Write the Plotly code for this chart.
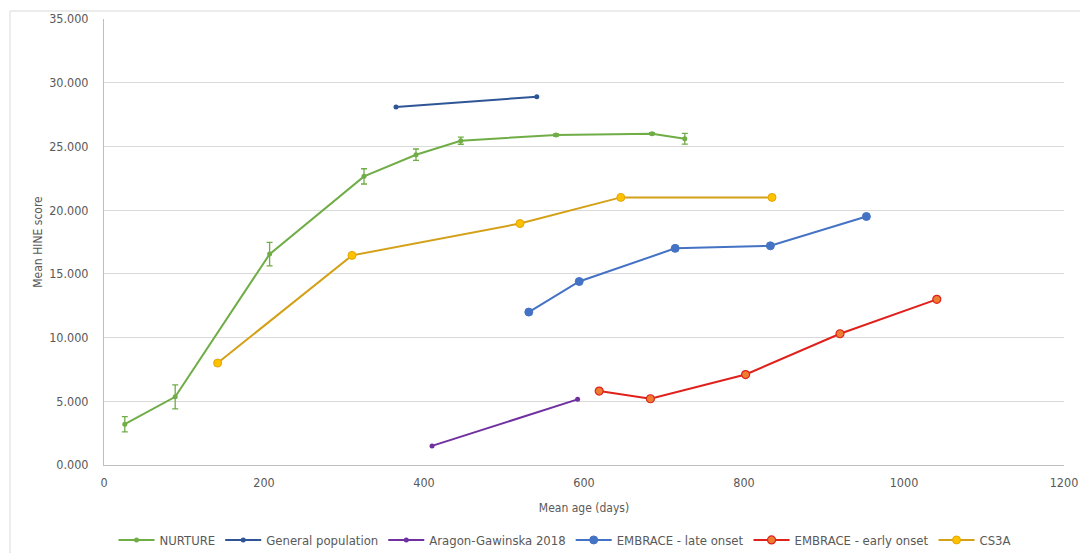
import plotly.graph_objects as go

# NURTURE
nurture_x = [26, 89, 207, 325, 390, 446, 565, 685, 726]
nurture_y = [3.2, 5.35, 16.55, 22.65, 24.35, 25.45, 25.9, 26.0, 25.6]
nurture_err = [0.6, 0.94, 0.92, 0.6, 0.45, 0.28, 0.08, 0.08, 0.42]

# General population
genpop_x = [365, 541]
genpop_y = [28.1, 28.9]

# Aragon-Gawinska 2018
aragon_x = [410, 592]
aragon_y = [1.5, 5.15]

# EMBRACE - late onset
late_x = [531, 594, 714, 833, 953]
late_y = [12.0, 14.4, 17.0, 17.2, 19.5]

# EMBRACE - early onset
early_x = [619, 683, 802, 920, 1041]
early_y = [5.8, 5.2, 7.1, 10.3, 13.0]

# CS3A
cs3a_x = [142, 310, 520, 646, 835]
cs3a_y = [8.0, 16.45, 18.95, 21.0, 21.0]

x_ticks = [0, 200, 400, 600, 800, 1000, 1200]
y_ticks = [0, 5, 10, 15, 20, 25, 30, 35]

fig = go.Figure()

fig.add_trace(go.Scatter(
    x=nurture_x, y=nurture_y, name="NURTURE", mode="lines+markers",
    line=dict(color="#70AD47", width=2),
    marker=dict(color="#70AD47", size=5),
    error_y=dict(type="data", array=nurture_err, visible=True,
                 color="#70AD47", thickness=1.3, width=3),
))
fig.add_trace(go.Scatter(
    x=genpop_x, y=genpop_y, name="General population", mode="lines+markers",
    line=dict(color="#2F5597", width=2),
    marker=dict(color="#2F5597", size=5),
))
fig.add_trace(go.Scatter(
    x=aragon_x, y=aragon_y, name="Aragon-Gawinska 2018", mode="lines+markers",
    line=dict(color="#7030A0", width=2),
    marker=dict(color="#7030A0", size=5),
))
fig.add_trace(go.Scatter(
    x=late_x, y=late_y, name="EMBRACE - late onset", mode="lines+markers",
    line=dict(color="#4472C4", width=2),
    marker=dict(color="#4472C4", size=8, line=dict(color="#4472C4", width=1)),
))
fig.add_trace(go.Scatter(
    x=early_x, y=early_y, name="EMBRACE - early onset", mode="lines+markers",
    line=dict(color="#E0201B", width=2),
    marker=dict(color="#ED7D31", size=8, line=dict(color="#E0201B", width=1.2)),
))
fig.add_trace(go.Scatter(
    x=cs3a_x, y=cs3a_y, name="CS3A", mode="lines+markers",
    line=dict(color="#D4A017", width=2),
    marker=dict(color="#FFC000", size=8, line=dict(color="#E0A800", width=1)),
))

font_fam = "Liberation Sans Narrow, DejaVu Sans Condensed, Arial, sans-serif"

W, H = 1080, 553
L, R, T, B = 104, 16, 19, 88
plot_h = H - T - B
plot_w = W - L - R

fig.update_layout(
    width=W, height=H,
    margin=dict(l=L, r=R, t=T, b=B, autoexpand=False),
    paper_bgcolor="white", plot_bgcolor="white",
    font=dict(family=font_fam, size=12, color="#595959"),
    xaxis=dict(
        range=[0, 1200], tickvals=x_ticks, showgrid=False,
        showline=True, linecolor="#BFBFBF", linewidth=1, zeroline=False,
        ticks="", ticklabeloverflow="allow", ticklabelstandoff=6,
        title=dict(text="Mean age (days)", standoff=14,
                   font=dict(size=12, color="#595959")),
        tickfont=dict(size=12.5, color="#595959"),
    ),
    yaxis=dict(
        range=[0, 35], tickvals=y_ticks, tickformat=".3f",
        showgrid=True, gridcolor="#D9D9D9", gridwidth=1,
        showline=True, linecolor="#BFBFBF", linewidth=1, zeroline=False,
        ticks="", ticklabeloverflow="allow", ticklabelstandoff=12,
        title=dict(text="Mean HINE score", standoff=3,
                   font=dict(size=12, color="#595959")),
        tickfont=dict(size=12.5, color="#595959"),
    ),
    legend=dict(
        orientation="h", x=(565 - L) / plot_w, xanchor="center",
        y=-(75 / plot_h), yanchor="middle",
        font=dict(size=13, color="#595959"), itemwidth=36,
        bgcolor="rgba(0,0,0,0)", tracegroupgap=0,
    ),
    showlegend=True,
)

fx = (10 - L) / plot_w
top_y = (plot_h + T - 11) / plot_h
fig.add_shape(type="line", xref="paper", yref="paper",
              x0=fx, x1=fx,
              y0=-(B + 20) / plot_h, y1=top_y,
              line=dict(color="#D9D9D9", width=1))
fig.add_shape(type="line", xref="paper", yref="paper",
              x0=fx, x1=(W + 20 - L) / plot_w,
              y0=top_y, y1=top_y,
              line=dict(color="#D9D9D9", width=1))

fig.write_html(
    "out.html",
    config={"displayModeBar": False},
    post_script="document.body.style.margin='0';document.body.style.overflow='hidden';",
)
